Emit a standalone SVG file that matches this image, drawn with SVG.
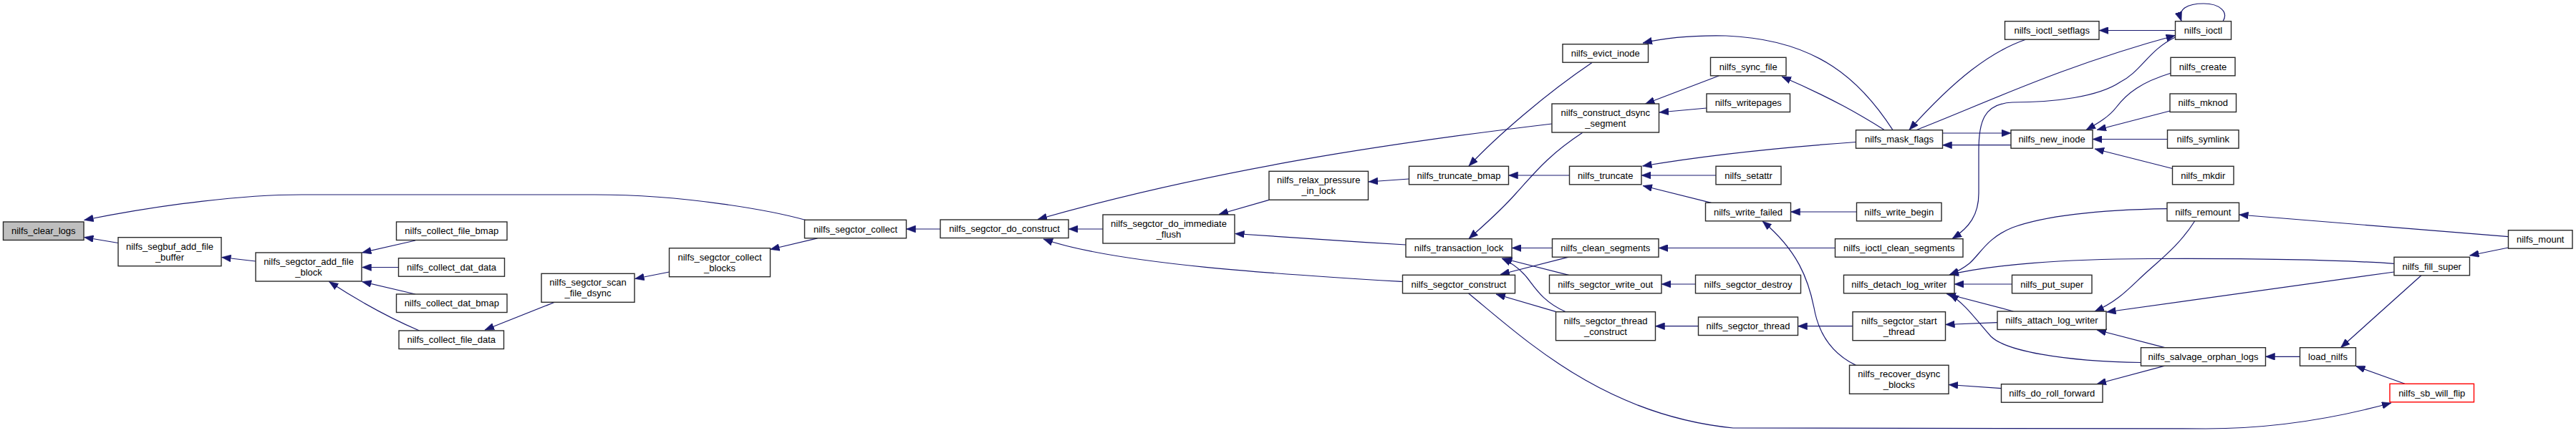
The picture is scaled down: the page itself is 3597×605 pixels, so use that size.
<svg xmlns="http://www.w3.org/2000/svg" width="3597" height="605" viewBox="0 0 3597 605">
<style>
.n rect{fill:#fff;stroke:#2a2a2a;stroke-width:1.4}
.n text{font-family:"Liberation Sans",Arial,Helvetica,sans-serif;font-size:13px;fill:#000;text-anchor:middle}
#edges path{fill:none;stroke:#191970;stroke-width:1.2;marker-end:url(#ah)}
</style>
<defs>
<marker id="ah" viewBox="0 0 13 10" refX="13" refY="5" markerWidth="13" markerHeight="10" markerUnits="userSpaceOnUse" orient="auto">
<path d="M0,0 L13,5 L0,10 z" fill="#191970" stroke="#191970" stroke-width="0.5"/>
</marker>
</defs>
<rect width="3597" height="605" fill="#fff"/>
<g id="edges">
<path d="M1125,307.5 C1080,295 960,272 830,272 L421,272 C340,272 230,285 117.5,307.5"/>
<path d="M165,339.5 L117.5,331.5"/>
<path d="M357,365 L309.5,359.5"/>
<path d="M580,336 L505.5,353"/>
<path d="M556.5,373.5 L505.5,373.5"/>
<path d="M580,411 L505.5,393.5"/>
<path d="M585.5,462 C548,446 500,420 459.5,393.5"/>
<path d="M774,422.5 L677,461"/>
<path d="M934.5,380 L886.5,389.5"/>
<path d="M1141.5,332.8 L1075.5,348.5"/>
<path d="M1313,320 L1265.5,320"/>
<path d="M1540,320 L1492,320"/>
<path d="M2167,173 C1950,199 1700,235 1449,306.5"/>
<path d="M1958.5,393.5 C1800,384 1560,370 1457,334"/>
<path d="M1772,279.3 L1702,299.5"/>
<path d="M1963,342 C1880,337 1790,331 1724.5,326.5"/>
<path d="M1967.5,250 L1911,254"/>
<path d="M2223,87.5 C2160,130 2090,190 2051,232"/>
<path d="M2191.5,245 L2106.5,245"/>
<path d="M2209.5,185.5 C2160,218 2140,245 2117,270 C2095,295 2075,312 2051,333.5"/>
<path d="M2643,181.7 C2600,115 2540,55 2410,50 C2360,49 2320,54 2294,60"/>
<path d="M2400,106 L2297.5,145"/>
<path d="M2383,151 L2317,157"/>
<path d="M2591.5,198.5 C2500,205 2400,214 2293.5,232"/>
<path d="M2396,245 L2292,245"/>
<path d="M2389.5,283.3 L2294,259.5"/>
<path d="M2167.5,346.5 L2111,346.5"/>
<path d="M2190.5,359.2 L2095,383.5"/>
<path d="M2190.5,384.3 L2098.5,361"/>
<path d="M2186.5,435.7 C2150,420 2140,395 2128,383 C2118,372 2108,366 2097,361"/>
<path d="M2173,435.7 L2089,411"/>
<path d="M2050.7,410 C2130,475 2240,580 2420,598 L3080,599 C3180,599 3270,582 3339,563"/>
<path d="M2562.5,346.5 L2316,346.5"/>
<path d="M2367.5,397 L2320,397"/>
<path d="M2371.5,455.7 L2311.5,455.7"/>
<path d="M2631.5,181.7 C2600,162 2560,138 2488,107"/>
<path d="M2828.5,55.2 C2780,72 2730,110 2666,181.5"/>
<path d="M2675.5,181.7 C2770,145 2880,92 3037.5,49.5"/>
<path d="M3037.5,52 C3000,70 2990,100 2960,115 C2930,135 2870,143 2810,143 C2770,145 2763,170 2763,210 L2763,270 C2763,300 2750,318 2726,333.5"/>
<path d="M2808,202.7 L2712.5,202.7"/>
<path d="M2712.5,186 L2808,186"/>
<path d="M2592.5,296 L2500.5,296"/>
<path d="M3031,102.3 C2990,115 2970,130 2955,150 C2945,163 2930,172 2913,181.5"/>
<path d="M3030,155 L2928,181.5"/>
<path d="M3026.5,194.5 L2922,194.5"/>
<path d="M3033.5,235.5 L2925,208"/>
<path d="M2591.5,510.3 C2560,495 2540,470 2533,430 C2525,390 2510,350 2461,309"/>
<path d="M3026,291.7 C2940,293 2860,300 2810,318 C2775,332 2765,355 2750,368 C2740,376 2732,380 2722,384"/>
<path d="M3343,368.3 C3250,362 3100,361 3000,361.5 C2880,362 2780,370 2722,384"/>
<path d="M2809.5,397 L2729,397"/>
<path d="M2811.5,435 L2718,410.5"/>
<path d="M2989.5,506.5 C2880,505 2800,490 2780,470 C2760,448 2745,425 2722,411"/>
<path d="M2587,455.7 L2510.5,455.7"/>
<path d="M2789,450.7 L2716.5,453.5"/>
<path d="M3064.7,308.8 C3045,340 3020,360 3000,378 C2975,400 2960,420 2925,435"/>
<path d="M3343,380 L2941.5,436"/>
<path d="M3022.8,485.7 L2928,461"/>
<path d="M2794.5,542.7 L2721,537.5"/>
<path d="M3022.8,511.2 L2928,536.5"/>
<path d="M3502.5,330.7 L3126.5,300"/>
<path d="M3502.5,346 L3448.5,357"/>
<path d="M3381,384.8 L3268.5,485.7"/>
<path d="M3211.5,498.3 L3163.5,498.3"/>
<path d="M3358,536.3 L3289.5,511.5"/>
<path d="M3104,29.7 C3112,17 3100,5 3077,5 C3055,5 3040,12 3046,29.5"/>
<path d="M3037.5,42.5 L2931,42.5"/>
</g>
<g id="nilfs_clear_logs" class="n"><rect x="4.5" y="310" width="112.5" height="25.5" style="fill:#bfbfbf"/><text x="60.75" y="327.25">nilfs_clear_logs</text></g>
<g id="nilfs_segbuf_add_file_buffer" class="n"><rect x="165" y="331.7" width="144" height="40"/><text x="237" y="348.7">nilfs_segbuf_add_file</text><text x="237" y="363.7">_buffer</text></g>
<g id="nilfs_segctor_add_file_block" class="n"><rect x="357" y="353" width="148" height="40"/><text x="431" y="370">nilfs_segctor_add_file</text><text x="431" y="385">_block</text></g>
<g id="nilfs_collect_file_bmap" class="n"><rect x="553.5" y="310" width="154.5" height="25.5"/><text x="630.75" y="327.25">nilfs_collect_file_bmap</text></g>
<g id="nilfs_collect_dat_data" class="n"><rect x="556.5" y="360.7" width="148" height="25.5"/><text x="630.5" y="377.95">nilfs_collect_dat_data</text></g>
<g id="nilfs_collect_dat_bmap" class="n"><rect x="553.5" y="411" width="154.5" height="25.5"/><text x="630.75" y="428.25">nilfs_collect_dat_bmap</text></g>
<g id="nilfs_collect_file_data" class="n"><rect x="557" y="462" width="146.5" height="25.5"/><text x="630.25" y="479.25">nilfs_collect_file_data</text></g>
<g id="nilfs_segctor_scan_file_dsync" class="n"><rect x="756" y="382.3" width="130" height="40"/><text x="821" y="399.3">nilfs_segctor_scan</text><text x="821" y="414.3">_file_dsync</text></g>
<g id="nilfs_segctor_collect_blocks" class="n"><rect x="934.5" y="346.7" width="141" height="40"/><text x="1005" y="363.7">nilfs_segctor_collect</text><text x="1005" y="378.7">_blocks</text></g>
<g id="nilfs_segctor_collect" class="n"><rect x="1123.5" y="307.3" width="142" height="25.5"/><text x="1194.5" y="324.55">nilfs_segctor_collect</text></g>
<g id="nilfs_segctor_do_construct" class="n"><rect x="1313" y="307" width="179" height="25.5"/><text x="1402.5" y="324.25">nilfs_segctor_do_construct</text></g>
<g id="nilfs_segctor_do_immediate_flush" class="n"><rect x="1540" y="300" width="184" height="40"/><text x="1632" y="317">nilfs_segctor_do_immediate</text><text x="1632" y="332">_flush</text></g>
<g id="nilfs_relax_pressure_in_lock" class="n"><rect x="1772" y="239.3" width="138.5" height="40"/><text x="1841.25" y="256.3">nilfs_relax_pressure</text><text x="1841.25" y="271.3">_in_lock</text></g>
<g id="nilfs_truncate_bmap" class="n"><rect x="1967.5" y="232.3" width="139" height="25.5"/><text x="2037" y="249.55">nilfs_truncate_bmap</text></g>
<g id="nilfs_evict_inode" class="n"><rect x="2182" y="61.7" width="119.5" height="25.5"/><text x="2241.75" y="78.95">nilfs_evict_inode</text></g>
<g id="nilfs_construct_dsync_segment" class="n"><rect x="2167" y="145" width="149.5" height="40"/><text x="2241.75" y="162">nilfs_construct_dsync</text><text x="2241.75" y="177">_segment</text></g>
<g id="nilfs_truncate" class="n"><rect x="2191.5" y="232.3" width="100.5" height="25.5"/><text x="2241.75" y="249.55">nilfs_truncate</text></g>
<g id="nilfs_transaction_lock" class="n"><rect x="1963" y="333.7" width="148" height="25.5"/><text x="2037" y="350.95">nilfs_transaction_lock</text></g>
<g id="nilfs_segctor_construct" class="n"><rect x="1958.5" y="384.3" width="157" height="25.5"/><text x="2037" y="401.55">nilfs_segctor_construct</text></g>
<g id="nilfs_clean_segments" class="n"><rect x="2167.5" y="333.7" width="148.5" height="25.5"/><text x="2241.75" y="350.95">nilfs_clean_segments</text></g>
<g id="nilfs_segctor_write_out" class="n"><rect x="2163.5" y="384.3" width="156.5" height="25.5"/><text x="2241.75" y="401.55">nilfs_segctor_write_out</text></g>
<g id="nilfs_segctor_thread_construct" class="n"><rect x="2172.5" y="435.7" width="139" height="40"/><text x="2242" y="452.7">nilfs_segctor_thread</text><text x="2242" y="467.7">_construct</text></g>
<g id="nilfs_sync_file" class="n"><rect x="2388.5" y="80.3" width="105.5" height="25.5"/><text x="2441.25" y="97.55">nilfs_sync_file</text></g>
<g id="nilfs_writepages" class="n"><rect x="2383" y="131" width="116.5" height="25.5"/><text x="2441.25" y="148.25">nilfs_writepages</text></g>
<g id="nilfs_setattr" class="n"><rect x="2396" y="232.3" width="91" height="25.5"/><text x="2441.5" y="249.55">nilfs_setattr</text></g>
<g id="nilfs_write_failed" class="n"><rect x="2381.5" y="283.3" width="119" height="25.5"/><text x="2441" y="300.55">nilfs_write_failed</text></g>
<g id="nilfs_segctor_destroy" class="n"><rect x="2367.5" y="384.3" width="147" height="25.5"/><text x="2441" y="401.55">nilfs_segctor_destroy</text></g>
<g id="nilfs_segctor_thread" class="n"><rect x="2371.5" y="443" width="139" height="25.5"/><text x="2441" y="460.25">nilfs_segctor_thread</text></g>
<g id="nilfs_ioctl_setflags" class="n"><rect x="2799.5" y="29.7" width="131.5" height="25.5"/><text x="2865.25" y="46.95">nilfs_ioctl_setflags</text></g>
<g id="nilfs_mask_flags" class="n"><rect x="2591.5" y="181.7" width="121" height="25.5"/><text x="2652" y="198.95">nilfs_mask_flags</text></g>
<g id="nilfs_new_inode" class="n"><rect x="2808" y="181.7" width="114" height="25.5"/><text x="2865" y="198.95">nilfs_new_inode</text></g>
<g id="nilfs_write_begin" class="n"><rect x="2592.5" y="283.3" width="118.5" height="25.5"/><text x="2651.75" y="300.55">nilfs_write_begin</text></g>
<g id="nilfs_ioctl_clean_segments" class="n"><rect x="2562.5" y="333.7" width="178.5" height="25.5"/><text x="2651.75" y="350.95">nilfs_ioctl_clean_segments</text></g>
<g id="nilfs_detach_log_writer" class="n"><rect x="2574.5" y="384.3" width="154.5" height="25.5"/><text x="2651.75" y="401.55">nilfs_detach_log_writer</text></g>
<g id="nilfs_put_super" class="n"><rect x="2809.5" y="384.3" width="111.5" height="25.5"/><text x="2865.25" y="401.55">nilfs_put_super</text></g>
<g id="nilfs_segctor_start_thread" class="n"><rect x="2587" y="435.7" width="129.5" height="40"/><text x="2651.75" y="452.7">nilfs_segctor_start</text><text x="2651.75" y="467.7">_thread</text></g>
<g id="nilfs_attach_log_writer" class="n"><rect x="2789" y="435" width="152" height="25.5"/><text x="2865" y="452.25">nilfs_attach_log_writer</text></g>
<g id="nilfs_recover_dsync_blocks" class="n"><rect x="2582.5" y="510.3" width="138.5" height="40"/><text x="2651.75" y="527.3">nilfs_recover_dsync</text><text x="2651.75" y="542.3">_blocks</text></g>
<g id="nilfs_do_roll_forward" class="n"><rect x="2794.5" y="536.7" width="141.5" height="25.5"/><text x="2865.25" y="553.95">nilfs_do_roll_forward</text></g>
<g id="nilfs_salvage_orphan_logs" class="n"><rect x="2989.5" y="485.7" width="174" height="25.5"/><text x="3076.5" y="502.95">nilfs_salvage_orphan_logs</text></g>
<g id="nilfs_ioctl" class="n"><rect x="3037.5" y="29.7" width="78" height="25.5"/><text x="3076.5" y="46.95">nilfs_ioctl</text></g>
<g id="nilfs_create" class="n"><rect x="3031" y="80.3" width="90" height="25.5"/><text x="3076" y="97.55">nilfs_create</text></g>
<g id="nilfs_mknod" class="n"><rect x="3030" y="131" width="92.5" height="25.5"/><text x="3076.25" y="148.25">nilfs_mknod</text></g>
<g id="nilfs_symlink" class="n"><rect x="3026.5" y="181.7" width="99.5" height="25.5"/><text x="3076.25" y="198.95">nilfs_symlink</text></g>
<g id="nilfs_mkdir" class="n"><rect x="3033.5" y="232.3" width="85.5" height="25.5"/><text x="3076.25" y="249.55">nilfs_mkdir</text></g>
<g id="nilfs_remount" class="n"><rect x="3026" y="283.3" width="100.5" height="25.5"/><text x="3076.25" y="300.55">nilfs_remount</text></g>
<g id="nilfs_mount" class="n"><rect x="3502.5" y="321.7" width="89.5" height="25.5"/><text x="3547.25" y="338.95">nilfs_mount</text></g>
<g id="nilfs_fill_super" class="n"><rect x="3343" y="359.3" width="105.5" height="25.5"/><text x="3395.75" y="376.55">nilfs_fill_super</text></g>
<g id="load_nilfs" class="n"><rect x="3211.5" y="485.7" width="78" height="25.5"/><text x="3250.5" y="502.95">load_nilfs</text></g>
<g id="nilfs_sb_will_flip" class="n"><rect x="3337" y="536.3" width="117.5" height="25.5" style="stroke:#ff0000"/><text x="3395.75" y="553.55">nilfs_sb_will_flip</text></g>
</svg>
